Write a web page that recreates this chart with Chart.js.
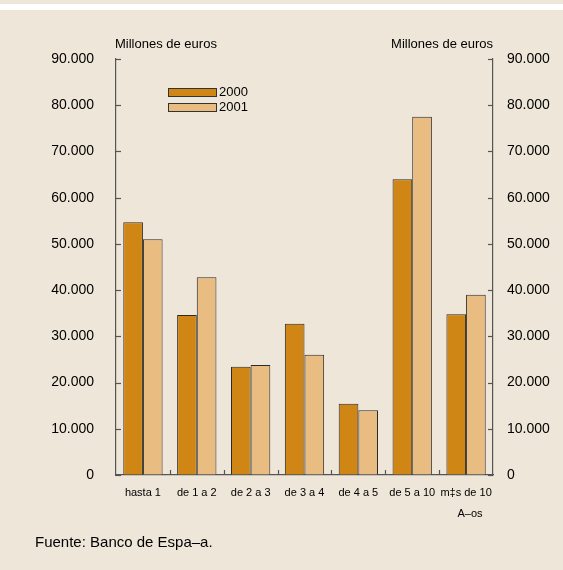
<!DOCTYPE html>
<html>
<head>
<meta charset="utf-8">
<script src="https://cdn.jsdelivr.net/npm/chart.js@4.4.0/dist/chart.umd.min.js"></script>
<style>
  html, body { margin: 0; padding: 0; background: #EEE6D8; }
</style>
</head>
<body>
<canvas id="plazos" width="563" height="570"></canvas>
<script>
// datos (millones de euros)
const categorias = ['hasta 1', 'de 1 a 2', 'de 2 a 3', 'de 3 a 4', 'de 4 a 5', 'de 5 a 10', 'm‡s de 10'];
const serie2000 = [54700, 34600, 23400, 32700, 15400, 64000, 34800];
const serie2001 = [51000, 42800, 23800, 26000, 14000, 77500, 39000];
const tituloEje = 'Millones de euros';
const tituloX = 'A–os';
const fuente = 'Fuente: Banco de Espa–a.';

const FONT = '"Liberation Sans", Arial, sans-serif';
const fmt = v => String(v).replace(/\B(?=(\d{3})+(?!\d))/g, '.');

const adornos = {
  id: 'adornos',
  beforeDraw(chart) {
    const c = chart.ctx;
    c.save();
    c.fillStyle = '#EEE6D8';
    c.fillRect(0, 0, chart.width, chart.height);
    c.fillStyle = '#ffffff';
    c.fillRect(0, 4, chart.width, 6);
    c.restore();
  },
  afterDraw(chart) {
    const c = chart.ctx;
    const a = chart.chartArea;
    const y = chart.scales.y;
    c.save();
    // marcas hacia dentro en los ejes verticales
    c.strokeStyle = '#555';
    c.lineWidth = 1.2;
    y.ticks.forEach(t => {
      const py = Math.round(y.getPixelForValue(t.value)) + 0.5;
      c.beginPath(); c.moveTo(a.left, py); c.lineTo(a.left + 5, py); c.stroke();
      c.beginPath(); c.moveTo(a.right, py); c.lineTo(a.right - 5, py); c.stroke();
    });
    // marcas entre categorias
    const paso = (a.right - a.left) / categorias.length;
    for (let i = 1; i < categorias.length; i++) {
      const px = Math.round(a.left + i * paso) + 0.5;
      c.beginPath(); c.moveTo(px, a.bottom); c.lineTo(px, a.bottom - 5); c.stroke();
    }
    // titulos
    c.fillStyle = '#000';
    c.font = '13px ' + FONT;
    c.textBaseline = 'middle';
    c.textAlign = 'left';
    c.fillText(tituloEje, a.left - 1, 44);
    c.textAlign = 'right';
    c.fillText(tituloEje, a.right, 44);
    c.font = '11px ' + FONT;
    c.textAlign = 'center';
    c.fillText(tituloX, 470, 514);
    c.font = '15px ' + FONT;
    c.textAlign = 'left';
    c.fillText(fuente, 35, 543);
    // leyenda
    c.font = '13px ' + FONT;
    chart.data.datasets.forEach((ds, i) => {
      const ly = 88 + i * 15;
      c.fillStyle = ds.backgroundColor;
      c.fillRect(168, ly, 48, 8);
      c.strokeStyle = '#333';
      c.lineWidth = 1;
      c.strokeRect(168.5, ly + 0.5, 48, 8);
      c.fillStyle = '#000';
      c.textAlign = 'left';
      c.fillText(ds.label, 219, ly + 4.5);
    });
    c.restore();
  }
};

new Chart(document.getElementById('plazos'), {
  type: 'bar',
  data: {
    labels: categorias,
    datasets: [
      { label: '2000', data: serie2000, backgroundColor: '#D08614', borderColor: '#2a2a2a', borderWidth: 1, yAxisID: 'y' },
      { label: '2001', data: serie2001, backgroundColor: '#E9BC82', borderColor: '#2a2a2a', borderWidth: 1, yAxisID: 'y' }
    ]
  },
  options: {
    responsive: false,
    animation: false,
    layout: { padding: { top: 59, left: 0, right: 0, bottom: 0 } },
    datasets: { bar: { categoryPercentage: 0.73, barPercentage: 1 } },
    plugins: { legend: { display: false }, tooltip: { enabled: false } },
    scales: {
      x: {
        grid: { display: true, drawOnChartArea: false, drawTicks: false },
        border: { display: true, color: '#555', width: 1.2 },
        ticks: { color: '#000', font: { family: FONT, size: 11 }, padding: 11, maxRotation: 0, autoSkip: false },
        afterFit(s) { s.height = 95; }
      },
      y: {
        position: 'left',
        min: 0, max: 90000,
        grid: { drawOnChartArea: false, drawTicks: false },
        border: { display: true, color: '#555', width: 1.2 },
        ticks: { stepSize: 10000, color: '#000', font: { family: FONT, size: 14 }, padding: 22, callback: v => fmt(v) },
        afterFit(s) { s.width = 116; }
      },
      y2: {
        position: 'right',
        min: 0, max: 90000,
        grid: { drawOnChartArea: false, drawTicks: false },
        border: { display: true, color: '#555', width: 1.2 },
        ticks: { stepSize: 10000, color: '#000', font: { family: FONT, size: 14 }, padding: 14, callback: v => fmt(v) },
        afterFit(s) { s.width = 70; }
      }
    }
  },
  plugins: [adornos]
});
</script>
</body>
</html>
